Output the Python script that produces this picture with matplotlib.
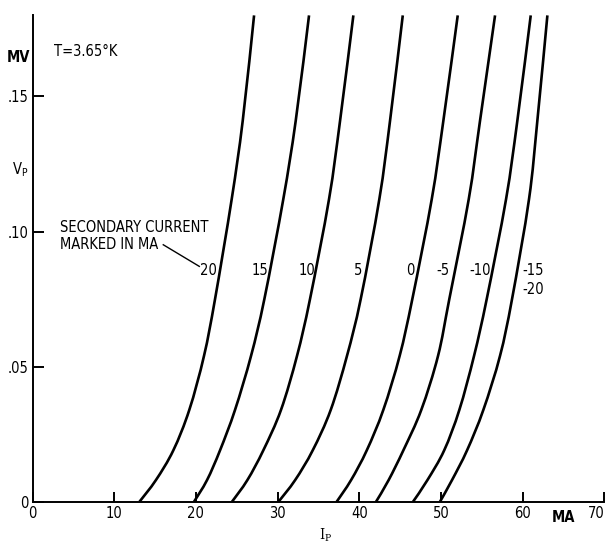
import matplotlib
matplotlib.use("Agg")
import matplotlib.pyplot as plt
from matplotlib.path import Path
from matplotlib.patches import PathPatch

# Voltage levels (mV) at which each curve was read
v_levels = [0, 0.008, 0.019, 0.034, 0.054, 0.075, 0.112, 0.141, 0.18]

# Primary current I_P (mA) for each secondary current (mA)
ip_s20 = [13.09, 15.10, 17.23, 19.19, 20.99, 22.34, 24.38, 25.73, 27.12]
ip_s15 = [19.77, 21.36, 22.95, 24.79, 26.75, 28.38, 30.70, 32.22, 33.85]
ip_s10 = [24.42, 26.30, 28.25, 30.42, 32.38, 33.97, 36.30, 37.65, 39.28]
ip_s5 = [30.12, 32.15, 34.30, 36.51, 38.50, 40.18, 42.46, 43.77, 45.33]
ip_s0 = [37.24, 39.00, 40.92, 42.95, 44.95, 46.50, 48.88, 50.30, 52.06]
ip_sm5 = [42.06, 43.60, 45.40, 47.60, 49.65, 51.03, 53.41, 54.79, 56.63]
ip_sm10 = [46.59, 48.35, 50.40, 52.26, 54.06, 55.61, 57.98, 59.36, 61.00]
ip_sm15 = [49.89, 51.36, 53.20, 55.20, 57.24, 58.71, 60.79, 61.81, 63.04]

curves = [ip_s20, ip_s15, ip_s10, ip_s5, ip_s0, ip_sm5, ip_sm10, ip_sm15]

# curve labels
label_texts = ["20", "15", "10", "5", "0", "-5", "-10", "-15", "-20"]
label_x = [21.5, 27.86, 33.57, 39.89, 46.22, 50.30, 54.79, 59.95, 59.95]
label_y = [0.0855, 0.0855, 0.0855, 0.0855, 0.0855, 0.0855, 0.0855, 0.0855, 0.0785]

xticks = [0, 10, 20, 30, 40, 50, 60, 70]
yticks = [0, 0.05, 0.10, 0.15]
ytick_labels = ["0", ".05", ".10", ".15"]

plt.rcParams["font.family"] = ["DejaVu Sans"]
plt.rcParams["font.stretch"] = "condensed"
FS = 10.5

fig = plt.figure(figsize=(6.12, 5.42), dpi=100)
ax = fig.add_axes([0.0533, 0.0744, 0.934, 0.8972])
ax.set_xlim(0, 70)
ax.set_ylim(0, 0.18)


def smooth_path(xs, ys):
    # Catmull-Rom style Bezier path through the read points
    pts = list(zip(xs, ys))
    n = len(pts)
    verts = [pts[0]]
    codes = [Path.MOVETO]
    for i in range(n - 1):
        p0 = pts[i - 1] if i > 0 else pts[i]
        p1 = pts[i]
        p2 = pts[i + 1]
        p3 = pts[i + 2] if i + 2 < n else pts[i + 1]
        c1 = (p1[0] + (p2[0] - p0[0]) / 6.0, p1[1] + (p2[1] - p0[1]) / 6.0)
        c2 = (p2[0] - (p3[0] - p1[0]) / 6.0, p2[1] - (p3[1] - p1[1]) / 6.0)
        verts += [c1, c2, p2]
        codes += [Path.CURVE4] * 3
    return Path(verts, codes)


for c in curves:
    ax.add_patch(PathPatch(smooth_path(c, v_levels), facecolor="none",
                           edgecolor="black", lw=1.9))

for t, x, y in zip(label_texts, label_x, label_y):
    ha = "left" if t in ("-15", "-20") else "center"
    ax.text(x, y, t, ha=ha, va="center", fontsize=FS, color="black")

for s in ["top", "right"]:
    ax.spines[s].set_visible(False)
for s in ["left", "bottom"]:
    ax.spines[s].set_linewidth(1.4)

ax.set_xticks(xticks)
ax.set_xticklabels([str(v) for v in xticks], fontsize=FS)
ax.set_yticks(yticks)
ax.set_yticklabels(ytick_labels, fontsize=FS)
ax.tick_params(axis="x", direction="in", length=7.5, width=1.4, pad=3)
ax.tick_params(axis="y", direction="in", length=8, width=1.4, pad=3)
ax.get_xticklabels()[-1].set_horizontalalignment("right")
ax.get_xticklabels()[-1].set_x(70.7)

# annotation text
ax.text(3.35, 0.0982, "SECONDARY CURRENT\nMARKED IN MA", ha="left", va="center",
        fontsize=FS, linespacing=1.15)
ax.plot([16.0, 20.41], [0.0951, 0.0871], color="black", lw=1.0, clip_on=False)
ax.text(2.62, 0.1666, "T=3.65°K", ha="left", va="center", fontsize=FS)

ax.text(-0.35, 0.1643, "MV", ha="right", va="center", fontsize=FS, fontweight="bold",
        clip_on=False)
ax.text(-1.55, 0.1228, "V$_\\mathregular{P}$", ha="center", va="center", fontsize=FS,
        clip_on=False)
ax.text(65.0, -0.0058, "MA", ha="center", va="center", fontsize=FS, fontweight="bold",
        clip_on=False)
ax.text(35.9, -0.0092, "I$_\\mathregular{P}$", ha="center", va="top", fontsize=FS,
        clip_on=False, family="DejaVu Serif")

fig.savefig("out.png", dpi=100)
